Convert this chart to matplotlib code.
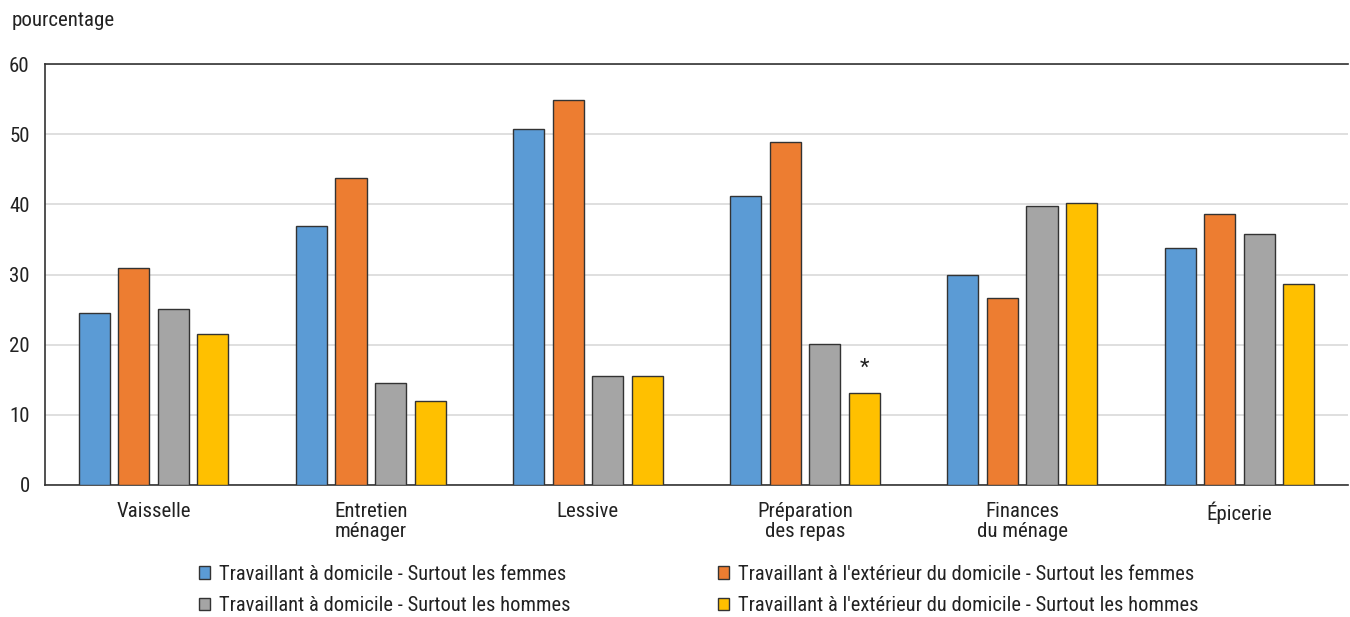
import matplotlib
matplotlib.use("Agg")
import matplotlib.pyplot as plt
from matplotlib import font_manager
import numpy as np

names = {f.name for f in font_manager.fontManager.ttflist}
fam = [f for f in ["Liberation Sans Narrow", "Roboto Condensed", "Liberation Sans"] if f in names] + ["DejaVu Sans"]
plt.rcParams['font.family'] = fam

categories = ["Vaisselle", "Entretien\nménager", "Lessive", "Préparation\ndes repas", "Finances\ndu ménage", "Épicerie"]
series_names = [
    "Travaillant à domicile - Surtout les femmes",
    "Travaillant à l'extérieur du domicile - Surtout les femmes",
    "Travaillant à domicile - Surtout les hommes",
    "Travaillant à l'extérieur du domicile - Surtout les hommes",
]
home_women = [24.5, 36.9, 50.8, 41.2, 29.9, 33.8]
out_women = [30.9, 43.7, 54.8, 48.9, 26.6, 38.6]
home_men = [25.1, 14.5, 15.5, 20.1, 39.7, 35.8]
out_men = [21.5, 12.0, 15.6, 13.1, 40.2, 28.6]
flags = ["", "", "", "*", "", ""]  # for out_men
colors = ["#5b9bd5", "#ed7d31", "#a5a5a5", "#ffc000"]

fig = plt.figure(figsize=(13.5, 6.17), dpi=100)
ax = fig.add_axes([45/1350, 1-485/617, 1303/1350, 421/617])

x = np.arange(len(categories))
w = 0.143
step = 0.182
offsets = [-1.5*step, -0.5*step, 0.5*step, 1.5*step]
all_series = [home_women, out_women, home_men, out_men]
handles = []
for vals, off, c, nm in zip(all_series, offsets, colors, series_names):
    b = ax.bar(x + off, vals, width=w, color=c, edgecolor="#333333", linewidth=1.0, label=nm, zorder=3)
    handles.append(b)
for xi, v, f in zip(x, out_men, flags):
    if f:
        ax.text(xi + offsets[3], v + 3.6, f, ha="center", va="center", fontsize=16, color="#222222")

ax.set_xlim(-0.5, 5.5)
ax.set_ylim(0, 60)
ax.set_yticks(range(0, 61, 10))
ax.yaxis.grid(True, color="#d9d9d9", linewidth=1.2, zorder=0)
ax.set_axisbelow(True)
ax.set_xticks(x)
ax.set_xticklabels(categories, fontsize=15, color="#222222", linespacing=1.1)
ax.tick_params(axis="x", length=0, pad=12)
ax.tick_params(axis="y", length=0, labelsize=15, colors="#222222", pad=11)
for s in ["left", "top", "bottom"]:
    ax.spines[s].set_color("#333333")
    ax.spines[s].set_linewidth(1.2)
ax.spines["right"].set_visible(False)

fig.text(12/1350, 1-20/617, "pourcentage", fontsize=15, color="#222222", va="center", ha="left")

order = [0, 2, 1, 3]
leg = fig.legend(handles=[handles[i] for i in order], labels=[series_names[i] for i in order],
                 loc="center left", bbox_to_anchor=(180/1350, 1-590/617),
                 ncol=2, frameon=False, fontsize=14.8, handlelength=0.55, handleheight=0.55,
                 handletextpad=0.45, columnspacing=7.15, labelspacing=0.62)
for t in leg.get_texts():
    t.set_color("#222222")

fig.savefig("out.png", dpi=100)
